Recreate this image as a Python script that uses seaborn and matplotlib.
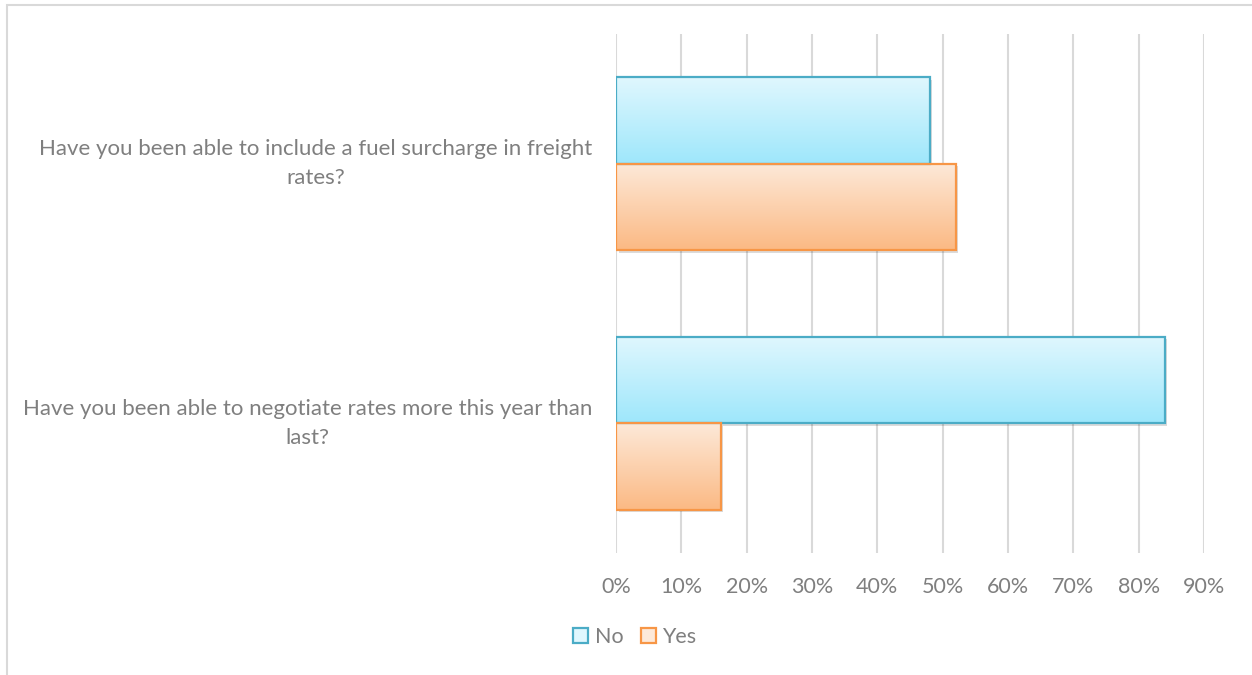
import numpy as np
import pandas as pd
import matplotlib
matplotlib.use("Agg")
import matplotlib.pyplot as plt
import matplotlib.transforms as mtransforms
from matplotlib.colors import LinearSegmentedColormap
from matplotlib.patches import Rectangle, Patch
import seaborn as sns

# Survey questions (wrapped as on the chart) and response shares in percent
questions = [
    "Have you been able to include a fuel surcharge in freight\nrates?",
    "Have you been able to negotiate rates more this year than\nlast?",
]
answers = ["No", "Yes"]
no_share = [48, 84]
yes_share = [52, 16]
x_ticks = [0, 10, 20, 30, 40, 50, 60, 70, 80, 90]
x_tick_labels = [f"{t}%" for t in x_ticks]

# Styling per answer: outline colour and top/bottom gradient colours
edge_colors = {"No": "#4bacc6", "Yes": "#f79646"}
grad_colors = {"No": ("#e0f7fe", "#9ee7fb"), "Yes": ("#fde9d9", "#fbb983")}
text_gray = "#7f7f7f"
grid_gray = "#d9d9d9"

df = pd.DataFrame({
    "question": questions * 2,
    "answer": ["No"] * len(questions) + ["Yes"] * len(questions),
    "share": no_share + yes_share,
})

sns.set_theme(style="white")
plt.rcParams["font.family"] = ["Lato", "DejaVu Sans"]

W, H = 1252, 675
fig = plt.figure(figsize=(W / 100, H / 100), dpi=100)
fig.patch.set_facecolor("white")

# Chart-area frame (only top and left edges fall inside the canvas)
fig.add_artist(Rectangle((6.5 / W, -0.5), 2.0, 1.5 - 4.5 / H,
                         transform=fig.transFigure, fill=False,
                         edgecolor=grid_gray, linewidth=1.5))

ax = fig.add_axes([616 / W, 1 - 553 / H, (1204 - 616) / W, 519 / H])

sns.barplot(data=df, y="question", x="share", hue="answer",
            order=questions, hue_order=answers, orient="h",
            width=0.667, saturation=1, legend=False,
            palette=[grad_colors[a][1] for a in answers], ax=ax)

shadow_offset = mtransforms.ScaledTranslation(2.5 / 100, -2.5 / 100,
                                              fig.dpi_scale_trans)
gradient = np.linspace(0, 1, 256).reshape(-1, 1)

for answer, container in zip(answers, ax.containers):
    cmap = LinearSegmentedColormap.from_list(answer, grad_colors[answer])
    for bar in container.patches:
        x, y = bar.get_x(), bar.get_y()
        w, h = bar.get_width(), bar.get_height()
        # soft drop shadow
        ax.add_patch(Rectangle((x, y), w, h,
                               transform=ax.transData + shadow_offset,
                               facecolor="#000000", alpha=0.14,
                               edgecolor="none", zorder=1.5))
        # vertical gradient fill, clipped to the bar
        im = ax.imshow(gradient, cmap=cmap, aspect="auto", origin="upper",
                       extent=[x, x + w, y + h, y], zorder=2,
                       interpolation="bilinear")
        im.set_clip_path(bar)
        bar.set_facecolor("none")
        bar.set_edgecolor(edge_colors[answer])
        bar.set_linewidth(1.6)
        bar.set_zorder(3)

ax.set_xlim(0, 90)
ax.set_ylim(1.5, -0.5)
ax.set_xticks(x_ticks)
ax.set_xticklabels(x_tick_labels)
ax.set_xlabel("")
ax.set_ylabel("")
ax.grid(axis="x", color=grid_gray, linewidth=1.5)
ax.grid(axis="y", visible=False)
ax.set_axisbelow(True)
for spine in ax.spines.values():
    spine.set_visible(False)
ax.set_facecolor("none")

ax.tick_params(axis="x", length=0, pad=17, labelsize=15.5, labelcolor=text_gray)
ax.tick_params(axis="y", length=0, pad=17, labelsize=16, labelcolor=text_gray)
for lbl in ax.get_yticklabels():
    lbl.set_horizontalalignment("right")
    lbl.set_verticalalignment("center")
    lbl.set_multialignment("center")
    lbl.set_linespacing(1.55)

handles = [Patch(facecolor=grad_colors[a][0], edgecolor=edge_colors[a],
                 linewidth=1.6) for a in answers]
fig.legend(handles, answers, loc="center", bbox_to_anchor=(0.507, 1 - 637 / H),
           ncol=2, frameon=False, handlelength=0.7, handleheight=0.7,
           handletextpad=0.3, columnspacing=0.8, fontsize=15.5,
           labelcolor=text_gray)

fig.savefig("out.png", dpi=100, facecolor="white")
